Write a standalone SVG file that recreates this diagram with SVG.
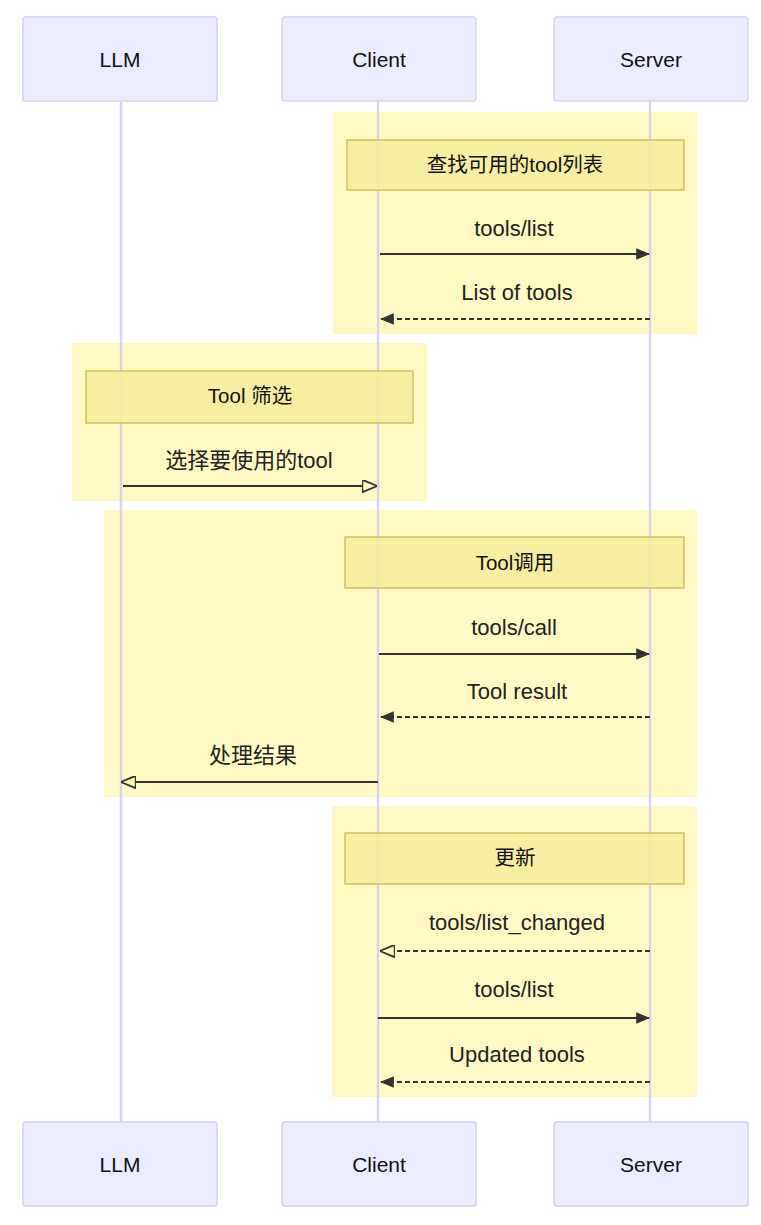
<svg xmlns="http://www.w3.org/2000/svg" width="761" height="1225" viewBox="0 0 761 1225">
<defs>
<style>
.actor rect{fill:#ECECFF;stroke:#d6d3f2;stroke-width:1.5}
.actor text{font-family:"Liberation Sans","Noto Sans",sans-serif;font-size:21px;fill:#111;text-anchor:middle}
.life{stroke:#d6d2ef;stroke-width:2.5}
.loop{fill:#fff9b8;opacity:0.85}
.note rect{fill:#f6ec9e;fill-opacity:0.9;stroke:#c5bb55;stroke-width:1.3}
.note text{font-family:"Liberation Sans","Noto Sans CJK SC",sans-serif;font-size:20.5px;fill:#111;text-anchor:middle}
.lbl{font-family:"Liberation Sans","Noto Sans CJK SC",sans-serif;font-size:22px;fill:#222;text-anchor:middle}
.msg{stroke:#333;stroke-width:2.2;fill:none}
.dash{stroke-dasharray:5,3}
</style>
<pattern id="hatch" width="8" height="8" patternUnits="userSpaceOnUse" patternTransform="rotate(35)">
<line x1="0" y1="0" x2="0" y2="8" stroke="#ffffff" stroke-width="1.5" opacity="0.6"/>
</pattern>
<marker id="af" viewBox="0 0 12 10" refX="11" refY="5" markerWidth="14" markerHeight="12" markerUnits="userSpaceOnUse" orient="auto">
<path d="M0,0 L12,5 L0,10 z" fill="#333"/>
</marker>
<marker id="ao" viewBox="0 0 12 10" refX="11" refY="5" markerWidth="15" markerHeight="13" markerUnits="userSpaceOnUse" orient="auto">
<path d="M0,0 L12,5 L0,10 z" fill="#fff9b8" stroke="#333" stroke-width="1.5"/>
</marker>
</defs>
<rect width="761" height="1225" fill="#ffffff"/>

<g id="loops">
<rect class="loop" x="333" y="112" width="364" height="222"/>
<rect class="loop" x="72" y="343" width="355" height="158"/>
<rect class="loop" x="104" y="510" width="593" height="287"/>
<rect class="loop" x="332" y="806" width="365" height="291"/>
</g>

<g id="lifelines">
<line class="life" x1="121" y1="101" x2="121" y2="1122"/>
<line class="life" x1="378" y1="101" x2="378" y2="1122"/>
<line class="life" x1="650" y1="101" x2="650" y2="1122"/>
</g>

<g id="actor-llm-top" class="actor">
<rect x="23" y="17" width="194" height="84" rx="3"/>
<rect x="23" y="17" width="194" height="84" rx="3" fill="url(#hatch)" stroke="none"/>
<text x="120" y="67">LLM</text>
</g>
<g id="actor-client-top" class="actor">
<rect x="282" y="17" width="194" height="84" rx="3"/>
<text x="379" y="67">Client</text>
</g>
<g id="actor-server-top" class="actor">
<rect x="554" y="17" width="194" height="84" rx="3"/>
<text x="651" y="67">Server</text>
</g>

<g id="note-1" class="note">
<rect x="347" y="140" width="337" height="50"/>
<text x="515" y="172">查找可用的tool列表</text>
</g>
<g id="note-2" class="note">
<rect x="86" y="371" width="327" height="52"/>
<text x="250" y="403">Tool 筛选</text>
</g>
<g id="note-3" class="note">
<rect x="345" y="537" width="339" height="51"/>
<text x="515" y="570">Tool调用</text>
</g>
<g id="note-4" class="note">
<rect x="345" y="833" width="339" height="51"/>
<text x="515" y="865">更新</text>
</g>

<g id="connectors">
<text class="lbl" x="514" y="236">tools/list</text>
<line class="msg" x1="380" y1="254" x2="649" y2="254" marker-end="url(#af)"/>
<text class="lbl" x="517" y="300">List of tools</text>
<line class="msg dash" x1="650" y1="319" x2="381" y2="319" marker-end="url(#af)"/>
<text class="lbl" x="249" y="468">选择要使用的tool</text>
<line class="msg" x1="123" y1="486" x2="376" y2="486" marker-end="url(#ao)"/>
<text class="lbl" x="514" y="635">tools/call</text>
<line class="msg" x1="379" y1="654" x2="649" y2="654" marker-end="url(#af)"/>
<text class="lbl" x="517" y="699">Tool result</text>
<line class="msg dash" x1="650" y1="717" x2="381" y2="717" marker-end="url(#af)"/>
<text class="lbl" x="253" y="763">处理结果</text>
<line class="msg" x1="378" y1="782" x2="122" y2="782" marker-end="url(#ao)"/>
<text class="lbl" x="517" y="930">tools/list_changed</text>
<line class="msg dash" x1="650" y1="951" x2="381" y2="951" marker-end="url(#ao)"/>
<text class="lbl" x="514" y="997">tools/list</text>
<line class="msg" x1="378" y1="1018" x2="649" y2="1018" marker-end="url(#af)"/>
<text class="lbl" x="517" y="1062">Updated tools</text>
<line class="msg dash" x1="650" y1="1082" x2="381" y2="1082" marker-end="url(#af)"/>
</g>

<g id="actor-llm-bottom" class="actor">
<rect x="23" y="1122" width="194" height="84" rx="3"/>
<rect x="23" y="1122" width="194" height="84" rx="3" fill="url(#hatch)" stroke="none"/>
<text x="120" y="1172">LLM</text>
</g>
<g id="actor-client-bottom" class="actor">
<rect x="282" y="1122" width="194" height="84" rx="3"/>
<rect x="282" y="1122" width="194" height="84" rx="3" fill="url(#hatch)" stroke="none"/>
<text x="379" y="1172">Client</text>
</g>
<g id="actor-server-bottom" class="actor">
<rect x="554" y="1122" width="194" height="84" rx="3"/>
<rect x="554" y="1122" width="194" height="84" rx="3" fill="url(#hatch)" stroke="none"/>
<text x="651" y="1172">Server</text>
</g>
</svg>
